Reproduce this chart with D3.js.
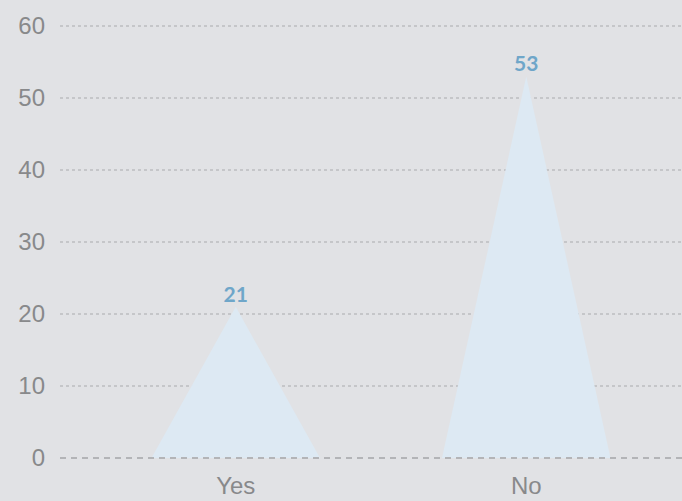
<!DOCTYPE html>
<html lang="en">
<head>
<meta charset="UTF-8">
<title>Yes / No</title>
<script src="https://d3js.org/d3.v7.min.js"></script>
<style>
    html, body { margin: 0; padding: 0; background: #e1e2e5; }
    svg { display: block; }
    .tick text { font-family: "Liberation Sans", Arial, sans-serif; fill: #88898b; }
</style>
</head>
<body>
<div id="chart"></div>
<script>
// data
const categories = ["Yes", "No"];
const values = [21, 53];
const yTicks = [0, 10, 20, 30, 40, 50, 60];

const width = 682, height = 501;
const margin = { top: 26, right: 0, bottom: 43, left: 60 };

const svg = d3.select("#chart")
    .append("svg")
    .attr("width", width)
    .attr("height", height);

// plot runs a little past the right edge, as in the original
const x = d3.scaleBand()
    .domain(categories)
    .range([margin.left, 702])
    .paddingInner(0.42)
    .paddingOuter(0.315);

const y = d3.scaleLinear()
    .domain([0, 60])
    .range([height - margin.bottom, margin.top]);

// gridlines (dotted)
svg.append("g")
    .selectAll("line")
    .data(yTicks.filter(d => d > 0))
    .enter()
    .append("line")
    .attr("x1", margin.left)
    .attr("x2", width)
    .attr("y1", d => y(d))
    .attr("y2", d => y(d))
    .attr("stroke", "#a9aaad")
    .attr("stroke-width", 1)
    .attr("stroke-dasharray", "3,3");

// y axis labels
const yAxis = svg.append("g")
    .attr("transform", `translate(${margin.left},0)`)
    .call(d3.axisLeft(y).tickValues(yTicks).tickSize(0).tickPadding(15));
yAxis.select(".domain").remove();
yAxis.selectAll("text").attr("font-size", 24);

// triangles
const half = x.bandwidth() / 2;
svg.append("g")
    .selectAll("path")
    .data(values)
    .enter()
    .append("path")
    .attr("d", (d, i) => {
        const cx = x(categories[i]) + half;
        return `M${cx - half},${y(0)}L${cx},${y(d)}L${cx + half},${y(0)}Z`;
    })
    .attr("fill", "#dde9f3");

// zero line (dashed)
svg.append("line")
    .attr("x1", margin.left)
    .attr("x2", width)
    .attr("y1", y(0))
    .attr("y2", y(0))
    .attr("stroke", "#b3b4b7")
    .attr("stroke-width", 2)
    .attr("stroke-dasharray", "6,5");

// value labels
svg.append("g")
    .selectAll("text")
    .data(values)
    .enter()
    .append("text")
    .attr("x", (d, i) => x(categories[i]) + half)
    .attr("y", d => y(d) - 5)
    .attr("text-anchor", "middle")
    .attr("font-family", "Lato, 'Open Sans', sans-serif")
    .attr("font-weight", "bold")
    .attr("font-size", 21)
    .attr("fill", "#6fa6c9")
    .text(d => d);

// x axis labels
const xAxis = svg.append("g")
    .attr("transform", `translate(0,${y(0)})`)
    .call(d3.axisBottom(x).tickSize(0).tickPadding(19));
xAxis.select(".domain").remove();
xAxis.selectAll("text").attr("font-size", 24);
</script>
</body>
</html>
